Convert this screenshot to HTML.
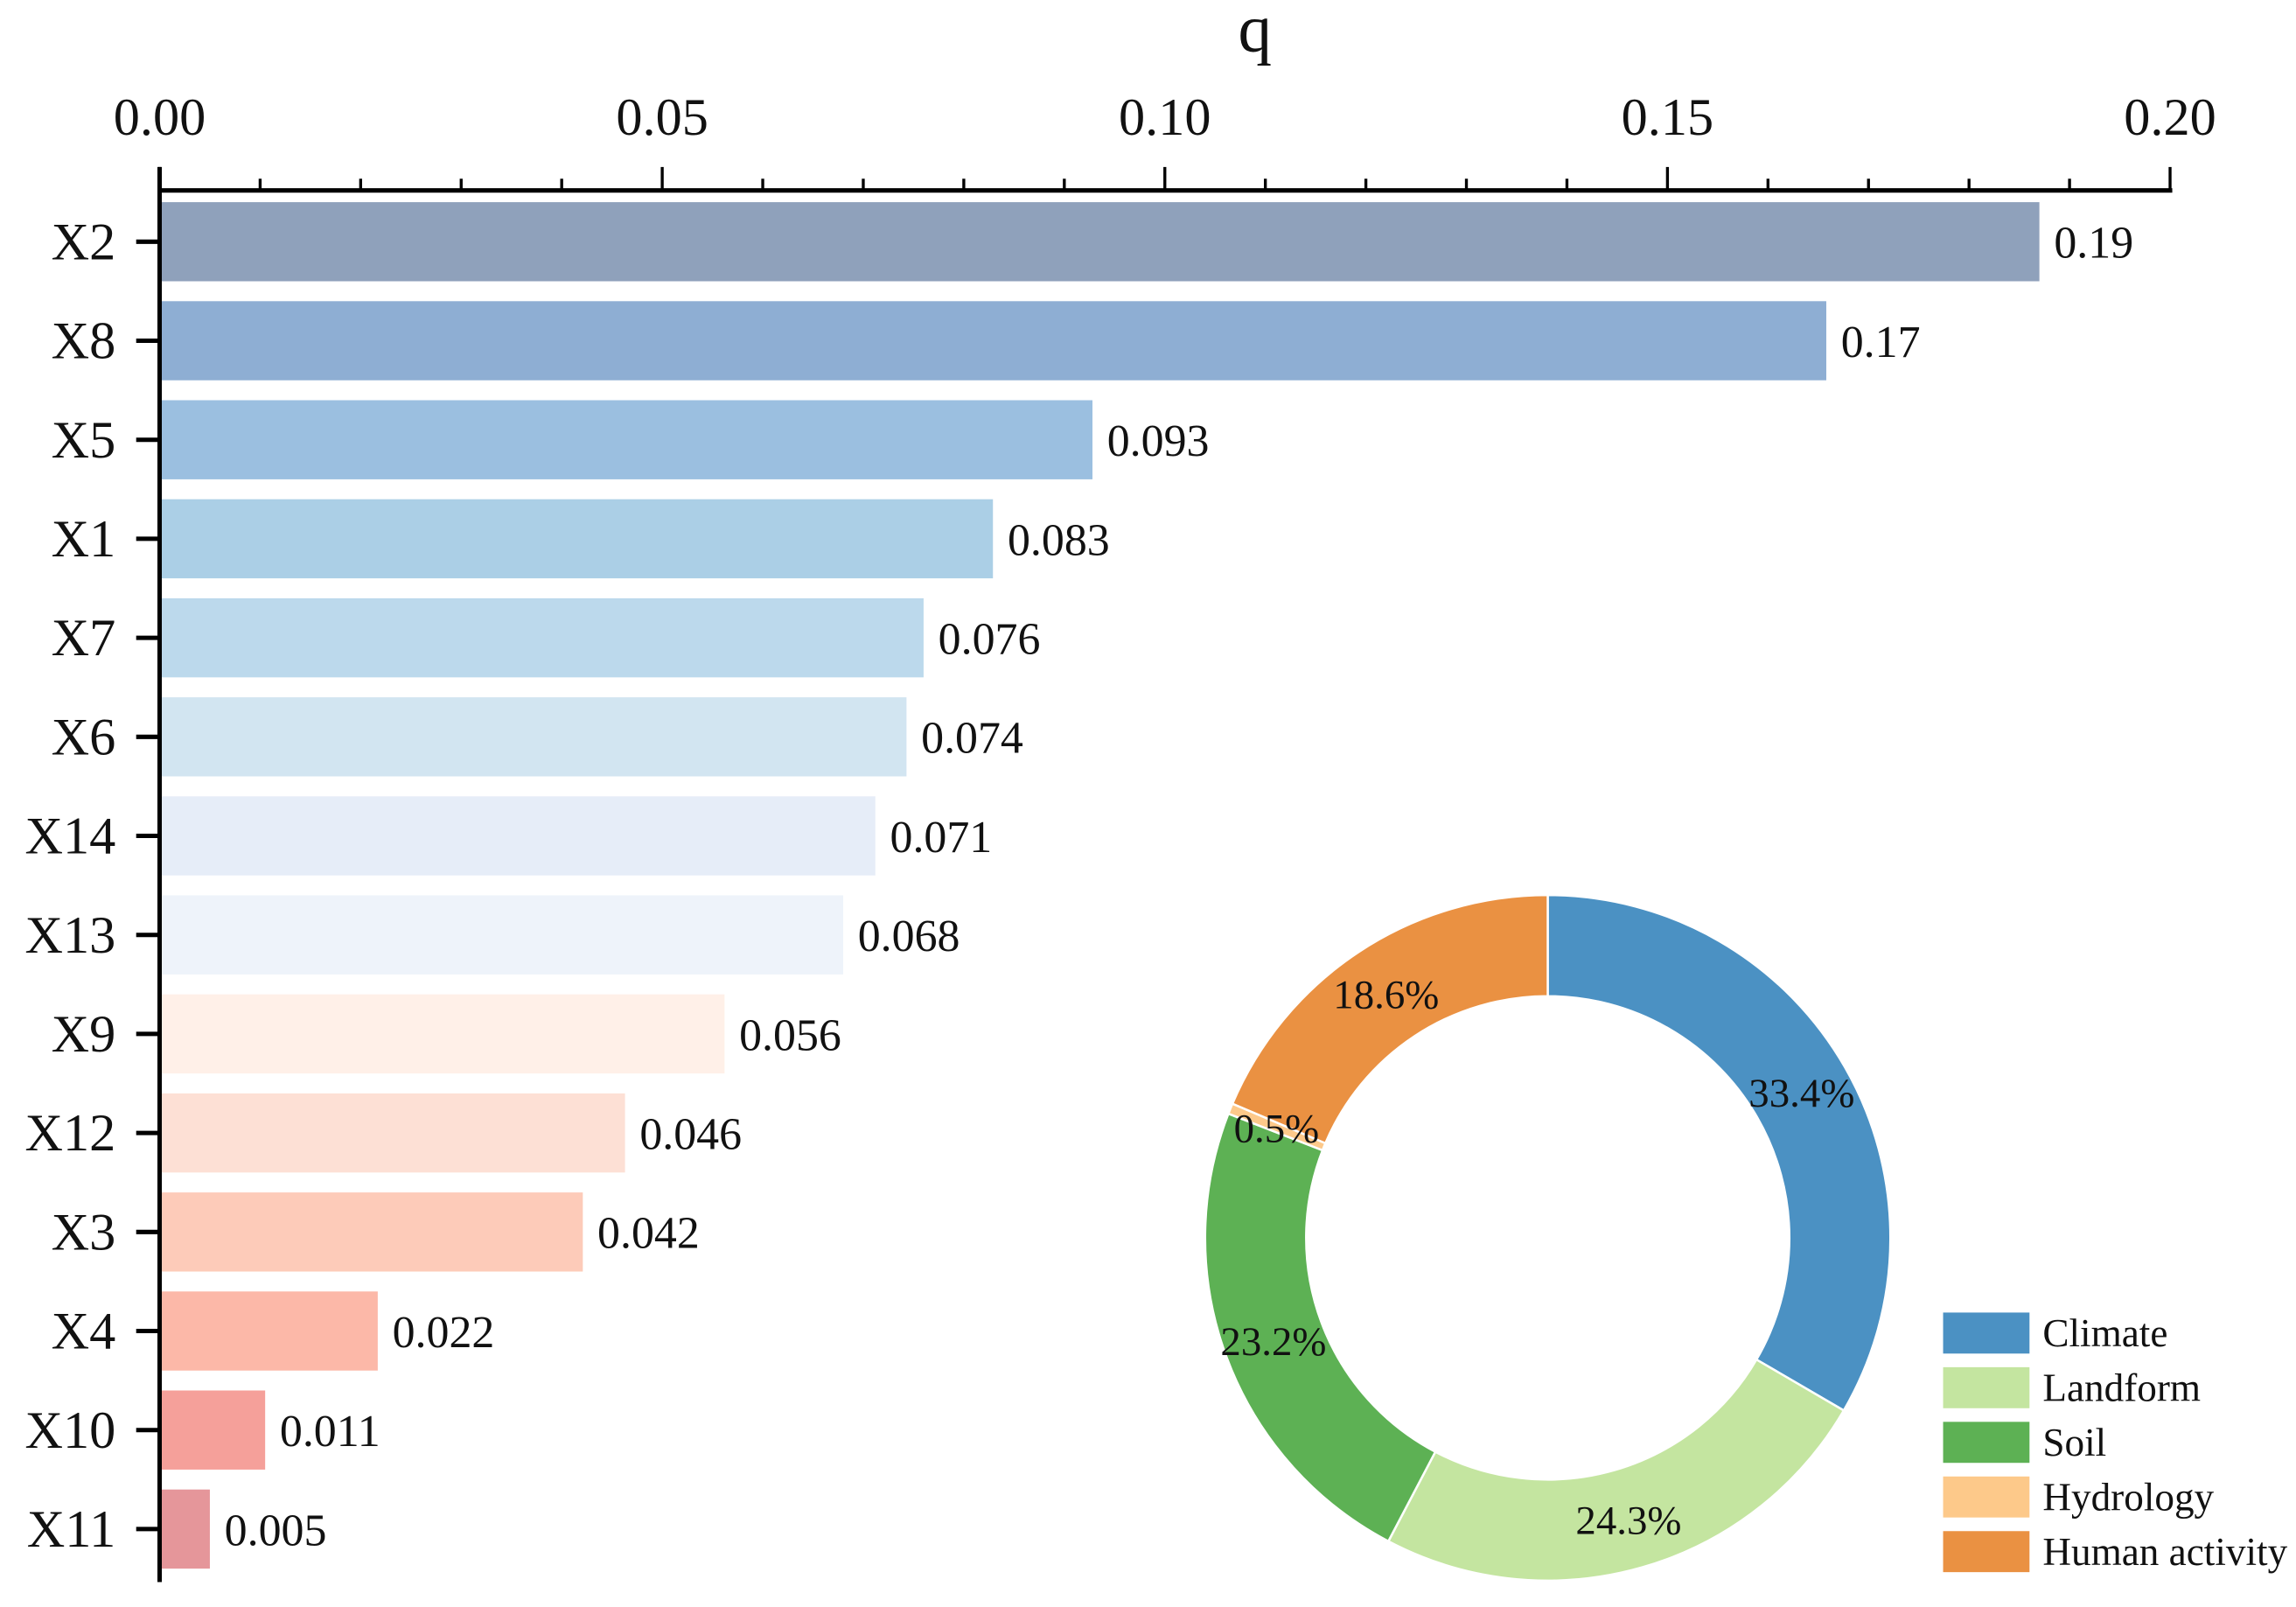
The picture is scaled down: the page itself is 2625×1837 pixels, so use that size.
<!DOCTYPE html>
<html><head><meta charset="utf-8"><style>
html,body{margin:0;padding:0;background:#fff;}
svg{display:block;font-family:"Liberation Serif",serif;}
</style></head><body>
<svg id="chart" width="2625" height="1837" viewBox="0 0 1568 1097" preserveAspectRatio="none" xmlns="http://www.w3.org/2000/svg">
<g id="bars"></g>
<g id="axes"></g>
<g id="donut"></g>
<g id="legend"></g>
</svg>
<script>
const categories = ["X2","X8","X5","X1","X7","X6","X14","X13","X9","X12","X3","X4","X10","X11"];
const values = [0.187,0.1658,0.0928,0.0829,0.076,0.0743,0.0712,0.068,0.0562,0.0463,0.0421,0.0217,0.0105,0.005];
const valueLabels = ["0.19","0.17","0.093","0.083","0.076","0.074","0.071","0.068","0.056","0.046","0.042","0.022","0.011","0.005"];
const barColors = ["#8fa1bb","#8eaed3","#9bbfe0","#abcfe6","#bcd9ec","#d2e5f1","#e6edf8","#eef3fa","#fff0e8","#fde0d5","#fdcbb9","#fcb8a8","#f5a09a","#e5969a"];
const xTicks = [0,0.05,0.10,0.15,0.20];
const xTickLabels = ["0.00","0.05","0.10","0.15","0.20"];
const pieCategories = ["Climate","Landform","Soil","Hydrology","Human activity"];
const pieValues = [33.4,24.3,23.2,0.5,18.6];
const pieLabels = ["33.4%","24.3%","23.2%","0.5%","18.6%"];
const pieColors = ["#4b91c3","#c4e5a0","#5db154","#fdc98a","#ea9142"];

const NS="http://www.w3.org/2000/svg";
function mk(tag,attrs,parent){const e=document.createElementNS(NS,tag);for(const k in attrs)e.setAttribute(k,attrs[k]);parent.appendChild(e);return e;}
const X0=109,X1=1482,xmax=0.20;
const xs=v=>X0+(v/xmax)*(X1-X0);
const yTop=165,step=67.6,bh=54;
const ys=i=>yTop+i*step;

const bars=document.getElementById('bars');
categories.forEach((c,i)=>{
  const r=mk('rect',{x:xs(0)+1,y:ys(i)-bh/2,width:xs(values[i])-xs(0)-1,height:bh,fill:barColors[i]},bars);
  
  
  const t=mk('text',{x:xs(values[i])+10,y:ys(i)+11,'font-size':31,fill:'#111'},bars);
  t.textContent=valueLabels[i];
  
  
});

const ax=document.getElementById('axes');
const topAxis=mk('line',{x1:X0,y1:130,x2:X1+1.5,y2:130,stroke:'#000','stroke-width':3},ax);


const leftAxis=mk('line',{x1:X0,y1:114,x2:X0,y2:1080,stroke:'#000','stroke-width':3},ax);


for(let k=0;k<=20;k++){
  const v=k*0.01, major=(k%5===0);
  const l=mk('line',{x1:xs(v),y1:major?114:122,x2:xs(v),y2:130,stroke:'#000','stroke-width':2},ax);
  
  
}
xTicks.forEach((v,i)=>{
  const t=mk('text',{x:xs(v),y:92,'font-size':36,'text-anchor':'middle',fill:'#111'},ax);
  t.textContent=xTickLabels[i];
  
  
});
const qTitle=mk('text',{x:857,y:35,'font-size':46,'text-anchor':'middle',fill:'#111'},ax);
qTitle.textContent='q';


categories.forEach((c,i)=>{
  const l=mk('line',{x1:93,y1:ys(i),x2:X0,y2:ys(i),stroke:'#000','stroke-width':3},ax);
  
  
  const t=mk('text',{x:79,y:ys(i)+12,'font-size':36,'text-anchor':'end',fill:'#111'},ax);
  t.textContent=c;
  
  
});

const dn=document.getElementById('donut');
const cx=1057,cy=845,R=234,r0=165,total=pieValues.reduce((a,b)=>a+b,0);
const pt=(ang,rad)=>[cx+rad*Math.sin(ang),cy-rad*Math.cos(ang)];
let acc=0;
pieValues.forEach((v,i)=>{
  const a0=acc/total*2*Math.PI; acc+=v; const a1=acc/total*2*Math.PI;
  const large=(a1-a0)>Math.PI?1:0;
  const [x0,y0]=pt(a0,R),[x1,y1]=pt(a1,R),[x2,y2]=pt(a1,r0),[x3,y3]=pt(a0,r0);
  const p=mk('path',{d:`M${x0},${y0}A${R},${R} 0 ${large} 1 ${x1},${y1}L${x2},${y2}A${r0},${r0} 0 ${large} 0 ${x3},${y3}Z`,fill:pieColors[i],stroke:'#fff','stroke-width':1.5},dn);
  
  
});
acc=0;
pieValues.forEach((v,i)=>{
  const am=(acc+v/2)/total*2*Math.PI; acc+=v;
  const [lx,ly]=pt(am,200);
  const t=mk('text',{x:lx,y:ly+10,'font-size':28,'text-anchor':'middle',fill:'#111'},dn);
  t.textContent=pieLabels[i];
  
  
});

const lg=document.getElementById('legend');
pieCategories.forEach((c,i)=>{
  const y=910+i*37.3;
  const s=mk('rect',{x:1327,y:y-14,width:59,height:28,fill:pieColors[i]},lg);
  
  
  const t=mk('text',{x:1395,y:y+9,'font-size':27,fill:'#111'},lg);
  t.textContent=c;
  
  
});
</script>
</body></html>
